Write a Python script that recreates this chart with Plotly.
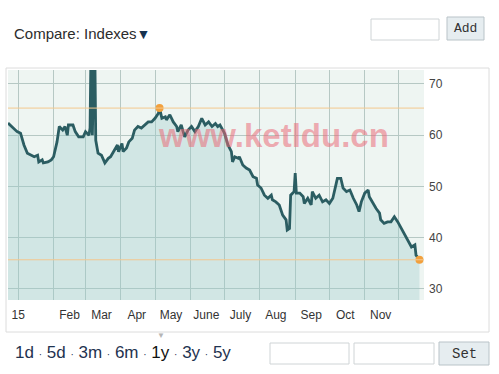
import plotly.graph_objects as go

# ---- data ----
dates = [
    "2014-12-23", "2014-12-26", "2014-12-31", "2015-01-03", "2015-01-06", "2015-01-09",
    "2015-01-12", "2015-01-15", "2015-01-18", "2015-01-19", "2015-01-22", "2015-01-23",
    "2015-01-27", "2015-01-30", "2015-02-01", "2015-02-04", "2015-02-06", "2015-02-09",
    "2015-02-11", "2015-02-13", "2015-02-14", "2015-02-18", "2015-02-20", "2015-02-23",
    "2015-02-27", "2015-03-01", "2015-03-04", "2015-03-05", "2015-03-06", "2015-03-07",
    "2015-03-09", "2015-03-10", "2015-03-12", "2015-03-15", "2015-03-18", "2015-03-21",
    "2015-03-23", "2015-03-26", "2015-03-29", "2015-03-30", "2015-04-02", "2015-04-03",
    "2015-04-06", "2015-04-08", "2015-04-11", "2015-04-13", "2015-04-16", "2015-04-19",
    "2015-04-22", "2015-04-25", "2015-04-28", "2015-05-01", "2015-05-04", "2015-05-05",
    "2015-05-07", "2015-05-10", "2015-05-11", "2015-05-14", "2015-05-17", "2015-05-20",
    "2015-05-21", "2015-05-24", "2015-05-27", "2015-05-30", "2015-06-02", "2015-06-05",
    "2015-06-08", "2015-06-11", "2015-06-14", "2015-06-17", "2015-06-20", "2015-06-23",
    "2015-06-25", "2015-06-27", "2015-07-01", "2015-07-04", "2015-07-07", "2015-07-08",
    "2015-07-10", "2015-07-13", "2015-07-14", "2015-07-17", "2015-07-20", "2015-07-23",
    "2015-07-26", "2015-07-29", "2015-07-30", "2015-08-02", "2015-08-05", "2015-08-08",
    "2015-08-11", "2015-08-12", "2015-08-15", "2015-08-18", "2015-08-21", "2015-08-24",
    "2015-08-25", "2015-08-27", "2015-08-28", "2015-08-31", "2015-09-01", "2015-09-02",
    "2015-09-05", "2015-09-08", "2015-09-09", "2015-09-12", "2015-09-15", "2015-09-16",
    "2015-09-19", "2015-09-22", "2015-09-25", "2015-09-28", "2015-10-01", "2015-10-04",
    "2015-10-07", "2015-10-08", "2015-10-11", "2015-10-13", "2015-10-16", "2015-10-19",
    "2015-10-22", "2015-10-25", "2015-10-27", "2015-10-29", "2015-11-01", "2015-11-04",
    "2015-11-05", "2015-11-08", "2015-11-11", "2015-11-14", "2015-11-15", "2015-11-18",
    "2015-11-21", "2015-11-24", "2015-11-27", "2015-11-30", "2015-12-03", "2015-12-06",
    "2015-12-09", "2015-12-12", "2015-12-15", "2015-12-16", "2015-12-19",
]
prices = [
    62.4, 61.7, 60.7, 60.4, 58.1, 56.5,
    56.1, 55.8, 56.1, 54.8, 55.2, 54.6,
    54.8, 55.2, 55.8, 58.7, 61.7, 61.0,
    61.7, 60.0, 62.0, 62.0, 60.7, 59.7,
    59.7, 60.7, 60.0, 61.4, 80.0, 60.0,
    80.0, 59.0, 56.5, 56.1, 54.6, 55.5,
    55.8, 57.1, 58.1, 56.8, 58.4, 56.8,
    57.5, 58.7, 59.4, 61.0, 61.7, 61.4,
    62.0, 62.6, 62.6, 63.3, 64.3, 65.3,
    63.3, 63.6, 63.0, 64.0, 62.6, 61.7,
    60.7, 62.0, 59.7, 61.0, 61.7, 60.7,
    61.7, 63.3, 62.0, 62.6, 61.7, 62.3,
    61.7, 62.0, 60.4, 58.1, 56.8, 54.8,
    55.8, 55.5, 55.8, 54.2, 53.6, 53.2,
    51.9, 51.6, 50.3, 49.7, 48.3, 47.7,
    48.3, 47.4, 47.0, 46.4, 44.4, 43.5,
    41.5, 41.8, 48.3, 49.0, 52.6, 48.7,
    48.7, 48.0, 46.7, 47.7, 46.4, 49.0,
    47.7, 48.3, 47.0, 47.4, 46.7, 47.7,
    50.6, 51.6, 51.6, 49.7, 49.0, 49.3,
    47.7, 46.4, 45.1, 47.0, 48.7, 49.3,
    48.0, 46.7, 45.7, 44.8, 43.5, 42.8,
    43.1, 43.1, 44.1, 43.1, 41.8, 40.5,
    39.2, 38.2, 38.6, 36.6, 35.7,
]
highlight_dates = ["2015-05-05", "2015-12-19"]   # high point and last point
highlight_values = [prices[dates.index(d)] for d in highlight_dates]

x_tick_dates = ["2015-01-01", "2015-02-15", "2015-03-15", "2015-04-15", "2015-05-15",
                "2015-06-15", "2015-07-15", "2015-08-15", "2015-09-15", "2015-10-15", "2015-11-15"]
x_tick_labels = ["15", "Feb", "Mar", "Apr", "May", "June", "July", "Aug", "Sep", "Oct", "Nov"]
y_ticks = [30, 40, 50, 60, 70]
range_buttons = ["1d", "5d", "3m", "6m", "1y", "3y", "5y"]
selected_range = "1y"
x_range = ["2014-12-23", "2015-12-23"]

# ---- layout helpers (pixel -> paper) ----
W, H = 499, 374
L, R, T, B = 8, 424, 70, 300
def px(p):
    return (p - L) / (R - L)
def py(p):
    return (B - p) / (B - T)

FONT = "Liberation Sans, Arial, sans-serif"
MONO = "Liberation Mono, Courier New, monospace"
GRID = "#b6c8c4"

fig = go.Figure()
fig.add_trace(go.Scatter(
    x=dates, y=prices, mode="lines",
    line=dict(color="#2b5d62", width=2.8),
    fill="tozeroy", fillcolor="rgba(151,201,201,0.34)",
    hoverinfo="skip", showlegend=False,
))
fig.add_trace(go.Scatter(
    x=highlight_dates, y=highlight_values, mode="markers",
    marker=dict(color="#f2a03d", size=8),
    hoverinfo="skip", showlegend=False,
))
# invisible trace carrying the month-label axis
fig.add_trace(go.Scatter(
    x=[dates[0]], y=[prices[0]], xaxis="x2", mode="markers",
    marker=dict(opacity=0), hoverinfo="skip", showlegend=False,
))

shapes = []
for v in highlight_values:
    shapes.append(dict(type="line", xref="paper", yref="y", x0=0, x1=1, y0=v, y1=v,
                       line=dict(color="#f3c88e", width=1)))
# outer frame of the chart widget
shapes.append(dict(type="rect", xref="paper", yref="paper",
                   x0=px(6), x1=px(489), y0=py(332), y1=py(68),
                   line=dict(color="#dcdcdc", width=1)))
# top input box and Add button
shapes.append(dict(type="rect", xref="paper", yref="paper",
                   x0=px(371), x1=px(439), y0=py(40), y1=py(19),
                   line=dict(color="#cfd4d6", width=1), fillcolor="white"))
shapes.append(dict(type="rect", xref="paper", yref="paper",
                   x0=px(447), x1=px(484), y0=py(40), y1=py(17),
                   line=dict(color="#b9c3c8", width=1), fillcolor="#e6edf0"))
# bottom inputs and Set button
shapes.append(dict(type="rect", xref="paper", yref="paper",
                   x0=px(270), x1=px(349), y0=py(364), y1=py(343),
                   line=dict(color="#cfd4d6", width=1), fillcolor="white"))
shapes.append(dict(type="rect", xref="paper", yref="paper",
                   x0=px(354), x1=px(434), y0=py(364), y1=py(343),
                   line=dict(color="#cfd4d6", width=1), fillcolor="white"))
shapes.append(dict(type="rect", xref="paper", yref="paper",
                   x0=px(439), x1=px(489), y0=py(365), y1=py(342),
                   line=dict(color="#b9c3c8", width=1), fillcolor="#e6edf0"))

annotations = []
annotations.append(dict(xref="paper", yref="paper", x=px(12), y=py(33),
                        xanchor="left", yanchor="middle", showarrow=False,
                        text="Compare: Indexes<span style='color:#17324f;font-size:14px'>▼</span>",
                        font=dict(family=FONT, size=15, color="#2c2c2c")))
annotations.append(dict(xref="paper", yref="paper", x=px(465.5), y=py(29),
                        xanchor="center", yanchor="middle", showarrow=False,
                        text="Add", font=dict(family=MONO, size=13, color="#333333")))
annotations.append(dict(xref="paper", yref="paper", x=px(464), y=py(354),
                        xanchor="center", yanchor="middle", showarrow=False,
                        text="Set", font=dict(family=MONO, size=14, color="#333333")))
parts = []
for r_ in range_buttons:
    c = "#111111" if r_ == selected_range else "#1f3350"
    parts.append(f"<span style='color:{c}'>{r_}</span>")
annotations.append(dict(xref="paper", yref="paper", x=px(13), y=py(352),
                        xanchor="left", yanchor="middle", showarrow=False,
                        text=" <span style='font-size:10px'>·</span> ".join(parts),
                        font=dict(family=FONT, size=17, color="#1f3350")))
annotations.append(dict(xref="paper", yref="paper", x=px(161), y=py(335),
                        xanchor="center", yanchor="middle", showarrow=False,
                        text="▼", font=dict(family=FONT, size=8, color="#b5b5b5")))
# watermark
annotations.append(dict(xref="paper", yref="paper", x=px(273), y=py(135),
                        xanchor="center", yanchor="middle", showarrow=False,
                        text="<b>www.ketldu.cn</b>",
                        font=dict(family=FONT, size=33, color="rgba(235,105,118,0.55)")))

fig.update_layout(
    width=W, height=H,
    margin=dict(l=L, r=W - R, t=T, b=H - B, pad=0),
    paper_bgcolor="white", plot_bgcolor="#eef5f2",
    shapes=shapes, annotations=annotations,
    showlegend=False,
    xaxis=dict(
        type="date", range=x_range,
        tick0="2015-01-01", dtick="M1", tickmode="linear",
        showgrid=True, gridcolor=GRID, gridwidth=1,
        showticklabels=False, zeroline=False, showline=False,
        fixedrange=True,
    ),
    xaxis2=dict(
        type="date", range=x_range, overlaying="x", side="bottom", anchor="y",
        tickmode="array", tickvals=x_tick_dates, ticktext=x_tick_labels,
        showgrid=False, zeroline=False, showline=False, ticks="",
        tickfont=dict(family=FONT, size=12, color="#333333"),
        ticklabelstandoff=6, fixedrange=True,
    ),
    yaxis=dict(
        side="right", range=[27.85, 72.73],
        tickmode="array", tickvals=y_ticks, showgrid=True, gridcolor=GRID, gridwidth=1,
        zeroline=False, showline=False,
        tickfont=dict(family=FONT, size=12, color="#444444"),
        ticklabelstandoff=4, fixedrange=True,
    ),
)

fig.write_html("out.html", config={"displayModeBar": False},
               post_script="document.body.style.margin='0';")
